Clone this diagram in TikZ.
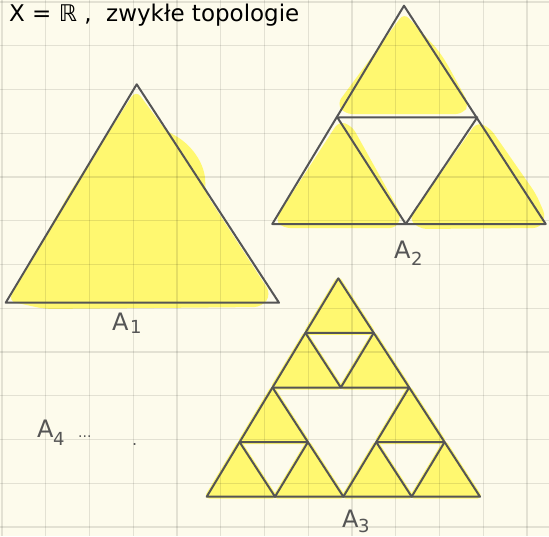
\documentclass[tikz,border=0pt]{standalone}
\usepackage{fontspec}
\setmainfont{DejaVu Sans}
\usetikzlibrary{calc}
\definecolor{paper}{RGB}{253,251,236}
\definecolor{hly}{RGB}{255,248,112}
\definecolor{ink}{RGB}{85,85,85}
\tikzset{
  gridline/.style={black, opacity=0.1, line width=1.4pt},
  tri/.style={draw=ink, line width=2pt, line join=round},
  hl/.style={fill=hly, draw=hly, line width=4pt, line join=round, rounded corners=3pt},
  lbl/.style={anchor=base west, inner sep=0pt, text=ink, font=\fontsize{24}{24}\selectfont},
  sub/.style={anchor=base west, inner sep=0pt, text=ink, font=\fontsize{18}{18}\selectfont},
  title/.style={anchor=base west, inner sep=0pt, text=black, font=\fontsize{23}{23}\selectfont}
}
\begin{document}
\begin{tikzpicture}[x=1pt,y=-1pt]
\useasboundingbox (0,0) rectangle (549,536);
\fill[paper] (0,0) rectangle (549,536);

% ---------- coordinates ----------
% A1
\coordinate (a1L) at (5.7,302.7);
\coordinate (a1R) at (279,302.7);
\coordinate (a1T) at (136.7,84.3);
% A2
\coordinate (a2T) at (404,5.7);
\coordinate (a2L) at (272.3,224);
\coordinate (a2R) at (545.7,224);
\coordinate (a2p) at (337.3,117.3);
\coordinate (a2q) at (477.3,117.3);
\coordinate (a2r) at (405.7,224);
% A3
\coordinate (T) at (338.3,278.3);
\coordinate (L) at (206.7,496.7);
\coordinate (R) at (480,496.7);
\coordinate (p) at ($(L)!0.5!(T)$);
\coordinate (q) at ($(T)!0.5!(R)$);
\coordinate (r) at ($(L)!0.5!(R)$);
\coordinate (tp) at ($(T)!0.5!(p)$);
\coordinate (tq) at ($(T)!0.5!(q)$);
\coordinate (pq) at ($(p)!0.5!(q)$);
\coordinate (pL) at ($(p)!0.5!(L)$);
\coordinate (pr) at ($(p)!0.5!(r)$);
\coordinate (Lr) at ($(L)!0.5!(r)$);
\coordinate (qr) at ($(q)!0.5!(r)$);
\coordinate (qR) at ($(q)!0.5!(R)$);
\coordinate (rR) at ($(r)!0.5!(R)$);

% ---------- highlighter ----------
% A1
\fill[hly, rounded corners=8pt] (136,90) -- (166,131)
   .. controls (190,143) and (206,163) .. (205,192)
   -- (271,294) -- (262,307) -- (45,309) -- (8,301) -- (70,192) -- cycle;
% A2
\fill[hly, rounded corners=7pt] (404,13) -- (438,50) -- (446,62) -- (469,104) -- (463,114) -- (345,114) -- (337,104) -- cycle;
\fill[hly, rounded corners=7pt] (339,121) -- (352,126) -- (401,214) -- (397,228) -- (283,228) -- (275,220) -- cycle;
\fill[hly, rounded corners=7pt] (477,122) -- (490,128) -- (536,194) -- (546,217) -- (540,228) -- (420,229) -- (409,219) -- cycle;
% A3
\path[hl] (T) -- (tq) -- (tp) -- cycle;
\path[hl] (tp) -- (pq) -- (p) -- cycle;
\path[hl] (tq) -- (q) -- (pq) -- cycle;
\path[hl] (p) -- (pr) -- (pL) -- cycle;
\path[hl] (pL) -- (Lr) -- (L) -- cycle;
\path[hl] (pr) -- (r) -- (Lr) -- cycle;
\path[hl] (q) -- (qR) -- (qr) -- cycle;
\path[hl] (qr) -- (rR) -- (r) -- cycle;
\path[hl] (qR) -- (R) -- (rR) -- cycle;

% ---------- grid ----------
\foreach \i in {0,...,12} {
  \draw[gridline] ({2+43.75*\i},0) -- ({2+43.75*\i},536);
  \draw[gridline] (0,{2+43.75*\i}) -- (549,{2+43.75*\i});
}

% ---------- triangles ----------
\draw[tri] (a1L) -- (a1R) -- (a1T) -- cycle;

\draw[tri] (a2L) -- (a2R) -- (a2T) -- cycle;
\draw[tri] (a2p) -- (a2q) -- (a2r) -- cycle;

\draw[tri] (L) -- (R) -- (T) -- cycle;
\draw[tri] (p) -- (q) -- (r) -- cycle;
\draw[tri] (tp) -- (tq) -- (pq) -- cycle;
\draw[tri] (pL) -- (pr) -- (Lr) -- cycle;
\draw[tri] (qr) -- (qR) -- (rR) -- cycle;

% ---------- labels ----------
\node[title] (t1) at (9,21) {X = ℝ ,};
\node[title] (t3) at (106,21) {zwykłe topologie};

\node[lbl] (A1) at (112,330) {A};
\node[sub] (A1s) at (130,333) {1};
\node[lbl] (A2) at (394,258) {A};
\node[sub] (A2s) at (411,265) {2};
\node[lbl] (A3) at (342,527) {A};
\node[sub] (A3s) at (358,532) {3};
\node[lbl] (A4) at (37,437) {A};
\node[sub] (A4s) at (53,445) {4};
\node[anchor=base west, inner sep=0pt, text=ink, font=\fontsize{14}{14}\selectfont] (dots) at (78,437) {...};
\node[anchor=base west, inner sep=0pt, text=ink, font=\fontsize{16}{16}\selectfont] (dot) at (132,445) {.};
\end{tikzpicture}
\end{document}
